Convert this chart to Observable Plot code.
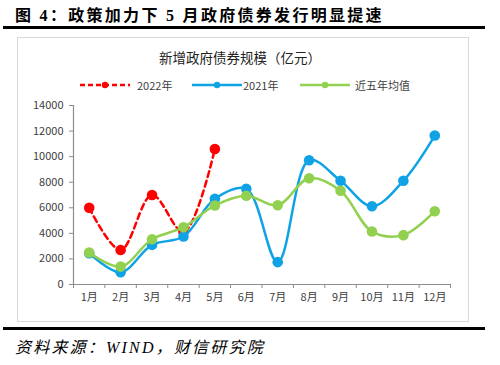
<!DOCTYPE html>
<html><head><meta charset="utf-8">
<script src="https://cdn.jsdelivr.net/npm/d3@7"></script>
<script src="https://cdn.jsdelivr.net/npm/@observablehq/plot@0.6"></script>
<style>
body{margin:0;background:#fff;width:500px;height:365px;overflow:hidden;position:relative;font-family:"Liberation Serif","Noto Sans CJK SC",serif;}
#title{position:absolute;left:15px;top:2px;font-size:16px;font-weight:bold;color:#000;letter-spacing:2.3px;white-space:nowrap;}
.bar{position:absolute;left:3px;width:482px;height:3px;background:#000;}
#box{position:absolute;left:17px;top:37px;width:452px;height:285px;border:1px solid #d9d9d9;box-sizing:border-box;}
#ctitle{position:absolute;left:0;width:480px;top:47px;text-align:center;font-family:"Noto Sans CJK SC",sans-serif;font-size:13.5px;color:#222;}
#legend{position:absolute;top:77px;left:0;font-family:"Noto Sans CJK SC",sans-serif;font-size:11px;color:#404040;}
#legend span{position:absolute;white-space:nowrap;line-height:16px;}
#legend svg{position:absolute;}
#foot{position:absolute;left:15px;top:334px;font-size:16px;font-style:italic;color:#000;letter-spacing:2.2px;white-space:nowrap;}
#chart{position:absolute;left:0;top:0;}
</style></head>
<body>
<div id="title">图 4：政策加力下 5 月政府债券发行明显提速</div>
<div class="bar" style="top:26px"></div>
<div id="box"></div>
<div id="ctitle">新增政府债券规模（亿元）</div>
<div id="legend"></div>
<div id="chart"></div>
<div class="bar" style="top:327px"></div>
<div id="foot">资料来源：WIND，财信研究院</div>
<script>
const months = [1,2,3,4,5,6,7,8,9,10,11,12];
const monthLabels = ["1月","2月","3月","4月","5月","6月","7月","8月","9月","10月","11月","12月"];
const y2022 = [6000, 2700, 7000, 4100, 10600];
const y2021 = [2450, 960, 3100, 3750, 6700, 7480, 1750, 9720, 8110, 6120, 8110, 11650];
const avg5 = [2500, 1400, 3540, 4480, 6180, 6940, 6200, 8310, 7330, 4150, 3860, 5730];
const yTicks = [0,2000,4000,6000,8000,10000,12000,14000];
const seriesNames = ["2022年","2021年","近五年均值"];
const colors = ["#ff0000","#0fa3e6","#92d050"];

const toRows = arr => arr.map((v,i)=>({m:months[i], v}));
const r22 = toRows(y2022), r21 = toRows(y2021), rav = toRows(avg5);

const chart = Plot.plot({
  width: 500, height: 365,
  marginLeft: 73, marginRight: 50, marginTop: 105, marginBottom: 81,
  style:{fontFamily:"'Noto Sans CJK SC', sans-serif", fontSize:"11px", color:"#404040", background:"transparent"},
  x:{type:"linear", domain:[0.5,12.5]},
  y:{domain:[0,14000]},
  marks:[
    Plot.ruleY([0],{stroke:"#8c8c8c", strokeWidth:1.2}),
    Plot.ruleX([0.5],{stroke:"#8c8c8c", strokeWidth:1.2}),
    Plot.axisY({ticks:yTicks, tickSize:4, tickPadding:6, tickFormat:d=>String(d), stroke:"#8c8c8c", label:null, fontSize:11}),
    Plot.axisX({ticks:months, tickSize:0, tickPadding:9, tickFormat:d=>monthLabels[d-1], label:null, fontSize:11}),
    Plot.axisX({ticks:d3.range(0.5,13,1), tickSize:4, tickFormat:()=>"", stroke:"#8c8c8c", label:null}),
    Plot.line(r22,{x:"m", y:"v", stroke:colors[0], strokeWidth:2.5, strokeDasharray:"6,4", curve:"catmull-rom"}),
    Plot.dot(r22,{x:"m", y:"v", r:5.3, fill:colors[0]}),
    Plot.line(r21,{x:"m", y:"v", stroke:colors[1], strokeWidth:2.5, curve:"catmull-rom"}),
    Plot.dot(r21,{x:"m", y:"v", r:5.3, fill:colors[1]}),
    Plot.line(rav,{x:"m", y:"v", stroke:colors[2], strokeWidth:2.5, curve:"catmull-rom"}),
    Plot.dot(rav,{x:"m", y:"v", r:5.3, fill:colors[2]})
  ]
});
document.getElementById("chart").appendChild(chart);

// legend
const leg = document.getElementById("legend");
const legX = [80, 192, 300];
const textX = [137, 243, 355];
seriesNames.forEach((name,i)=>{
  const s = document.createElementNS("http://www.w3.org/2000/svg","svg");
  s.setAttribute("width",52); s.setAttribute("height",16);
  s.style.left = legX[i]+"px"; s.style.top = "0px";
  s.innerHTML = `<line x1="0" x2="50" y1="8" y2="8" stroke="${colors[i]}" stroke-width="2.5" ${i===0?'stroke-dasharray="5,3"':''}/><circle cx="25" cy="8" r="3.2" fill="${colors[i]}"/>`;
  leg.appendChild(s);
  const t = document.createElement("span");
  t.textContent = name; t.style.left = textX[i]+"px"; t.style.top = "0px";
  leg.appendChild(t);
});
</script>
</body></html>
